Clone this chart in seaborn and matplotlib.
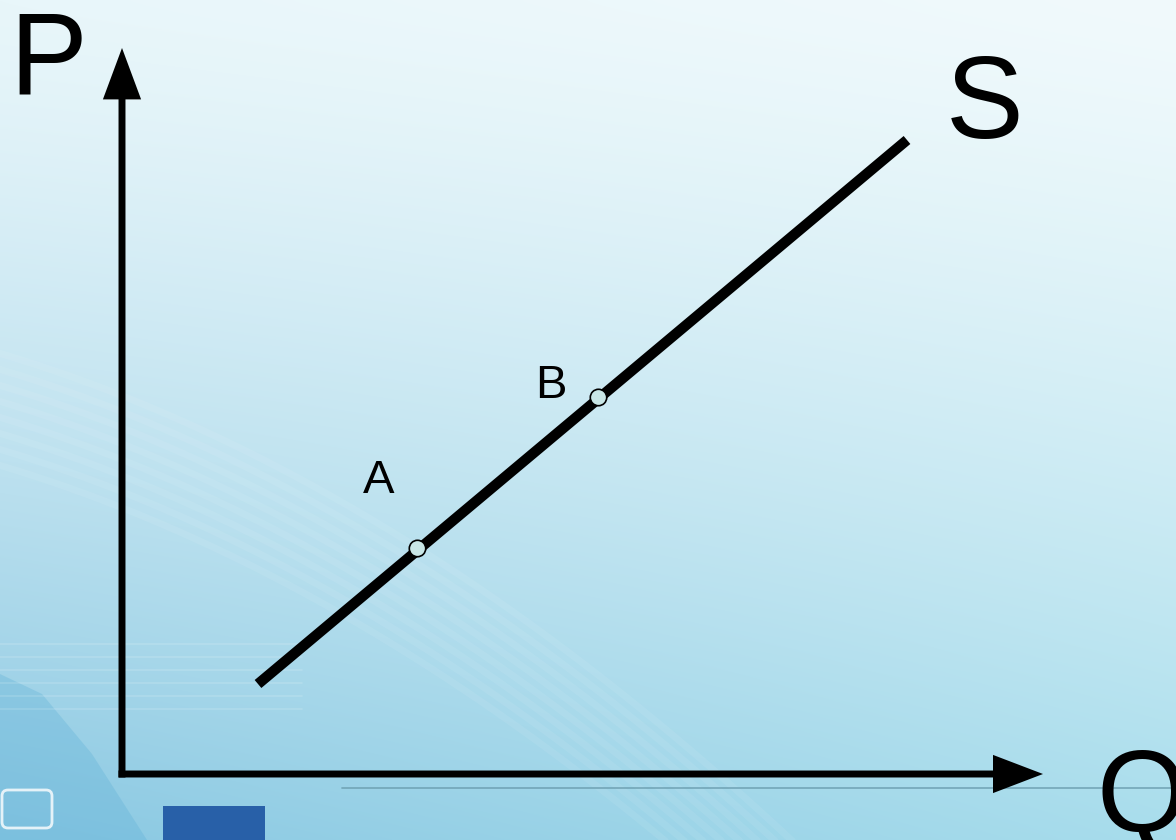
import numpy as np
import matplotlib
matplotlib.use("Agg")
from matplotlib import pyplot as plt
from matplotlib.patches import Rectangle, FancyBboxPatch, Polygon
import seaborn as sns

# supply curve S (quantity Q, price P), in diagram units
s_q = [13.6, 78.5]
s_p = [9.0, 63.4]

# marked points on the curve
point_names = ["A", "B"]
point_q = [29.5, 47.6]
point_p = [22.6, 37.7]

sns.set_theme()
sns.set_style("white")
plt.rcParams['font.family'] = ['Liberation Sans', 'DejaVu Sans']
plt.rcParams['text.color'] = 'black'

fig = plt.figure(figsize=(11.76, 8.4), dpi=100)
ax = fig.add_axes([0, 0, 1, 1])
xmin, xmax = -12.2, 105.4
ymin, ymax = -6.6, 77.4

# background gradient, light blue slide style
h, w = 840, 1176
yy, xx = np.mgrid[0:1:h * 1j, 0:1:w * 1j]
tl = np.array([232, 246, 250]) / 255
tr = np.array([241, 250, 252]) / 255
bl = np.array([138, 200, 226]) / 255
br = np.array([168, 221, 236]) / 255
t = yy[..., None] ** 1.3
s = xx[..., None]
bg = (tl * (1 - s) + tr * s) * (1 - t) + (bl * (1 - s) + br * s) * t
ax.imshow(bg, extent=[xmin, xmax, ymin, ymax], aspect='auto', zorder=0)

# decorative shapes
ax.add_patch(Polygon([(xmin, 10), (xmin, ymin), (2.5, ymin), (-3, 2), (-8, 8)],
                     closed=True, facecolor='#5aaed6', alpha=0.3, edgecolor='none', zorder=1))
arc_q = np.linspace(xmin, xmax, 200)
for k in range(8):
    arc_p = 42 - 0.004 * (arc_q + 12) ** 2 - k * 1.6 - 0.3 * (arc_q + 12)
    ax.plot(arc_q, arc_p, color='white', alpha=0.07, lw=5, zorder=1)
for k in range(6):
    ax.plot([xmin, 18], [13 - k * 1.3, 13 - k * 1.3], color='white', alpha=0.15, lw=1.2, zorder=1)
ax.plot([22, xmax], [-1.4, -1.4], color='#6c9eb0', lw=1.3, alpha=0.8, zorder=1)
ax.add_patch(Rectangle((4.1, ymin), 10.2, 3.4, facecolor='#2860a8', edgecolor='none', zorder=1))
ax.add_patch(FancyBboxPatch((-11.8, -5.2), 4.6, 3.4, boxstyle='round,pad=0.2,rounding_size=0.6',
                            facecolor='none', edgecolor='white', lw=2, alpha=0.8, zorder=1))

# axes as arrows
ax.annotate('', xy=(0, 72.6), xytext=(0, -0.35),
            arrowprops=dict(width=5, headwidth=27.5, headlength=37, facecolor='black',
                            edgecolor='none', shrink=0), zorder=3)
ax.annotate('', xy=(92.1, 0), xytext=(-0.35, 0),
            arrowprops=dict(width=5, headwidth=27.5, headlength=36, facecolor='black',
                            edgecolor='none', shrink=0), zorder=3)

# supply line
sns.lineplot(x=s_q, y=s_p, ax=ax, color='black', linewidth=7.5, zorder=4,
             solid_capstyle='butt', estimator=None, sort=False)
sns.scatterplot(x=point_q, y=point_p, ax=ax, s=140, color='#c8e6e6',
                edgecolor='black', linewidth=1.2, zorder=5)

ax.text(-11.3, 68.1, 'P', fontsize=84, va='baseline', ha='left', zorder=6)
ax.text(82.4, 63.6, 'S', fontsize=84, va='baseline', ha='left', zorder=6)
ax.text(97.5, -5.8, 'Q', fontsize=84, va='baseline', ha='left', zorder=6)
label_dq = [-5.4, -6.3]
label_dp = [5.5, -0.1]
for name, q, p, dq, dp in zip(point_names, point_q, point_p, label_dq, label_dp):
    ax.text(q + dq, p + dp, name, fontsize=34, va='baseline', ha='left', zorder=6)

ax.set_xlim(xmin, xmax)
ax.set_ylim(ymin, ymax)
ax.axis('off')
fig.savefig("out.png", dpi=100)
